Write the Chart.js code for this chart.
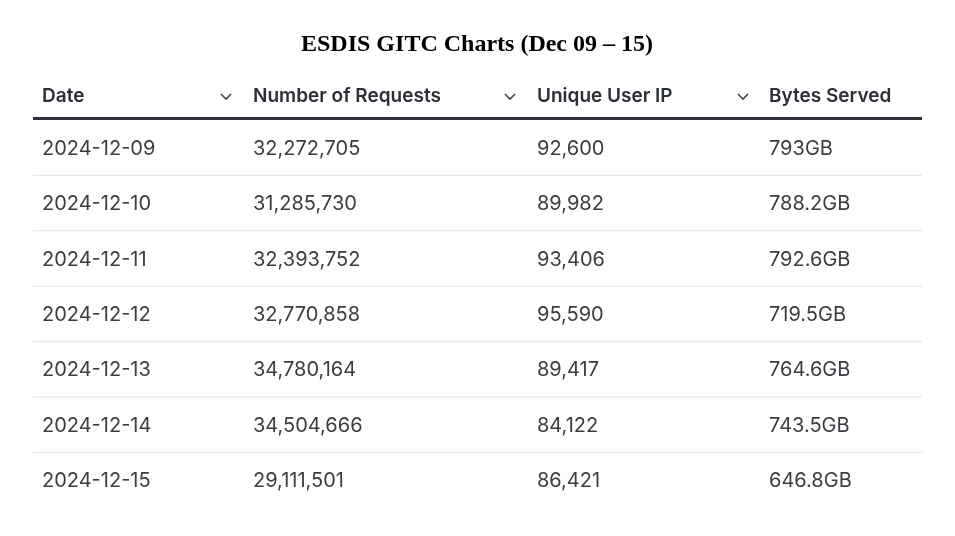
<!DOCTYPE html>
<html><head><meta charset="utf-8">
<script src="https://cdn.jsdelivr.net/npm/chart.js@4"></script>
<style>html,body{margin:0;padding:0;background:#fff}#w{width:955px;height:536px}</style>
</head><body><div id="w"><canvas id="c"></canvas></div>
<script>
const title = "ESDIS GITC Charts (Dec 09 – 15)";
const columns = ["Date", "Number of Requests", "Unique User IP", "Bytes Served"];
const dates = ["2024-12-09","2024-12-10","2024-12-11","2024-12-12","2024-12-13","2024-12-14","2024-12-15"];
const requests = ["32,272,705","31,285,730","32,393,752","32,770,858","34,780,164","34,504,666","29,111,501"];
const uniqueIP = ["92,600","89,982","93,406","95,590","89,417","84,122","86,421"];
const bytesServed = ["793GB","788.2GB","792.6GB","719.5GB","764.6GB","743.5GB","646.8GB"];

const colX = [42, 253, 537, 769];
const chevX = [226, 510, 743];
const tablePlugin = {
  id: 'table',
  afterDraw(chart) {
    const ctx = chart.ctx, ys = chart.scales.y, a = chart.chartArea;
    ctx.save();
    ctx.fillStyle = '#000';
    ctx.font = 'bold 24px "Liberation Serif", "Times New Roman", serif';
    ctx.textAlign = 'center'; ctx.textBaseline = 'middle';
    ctx.fillText(title, 477, 45);
    ctx.textAlign = 'left';
    ctx.fillStyle = '#2b2f36';
    ctx.font = '600 19px Inter, sans-serif';
    columns.forEach((c, i) => ctx.fillText(c, colX[i], 96));
    ctx.strokeStyle = '#444'; ctx.lineWidth = 1.6;
    chevX.forEach(x => { ctx.beginPath(); ctx.moveTo(x-5, 94); ctx.lineTo(x, 99); ctx.lineTo(x+5, 94); ctx.stroke(); });
    ctx.fillStyle = '#2b2f36';
    ctx.fillRect(a.left, 117, a.right - a.left, 3);
    ctx.font = '20px Inter, sans-serif';
    ctx.fillStyle = '#3a3d42';
    dates.forEach((d, r) => {
      const y = ys.getPixelForValue(r);
      [d, requests[r], uniqueIP[r], bytesServed[r]].forEach((t, i) => ctx.fillText(t, colX[i], y + 1));
      if (r < dates.length - 1) {
        ctx.fillStyle = '#e6e7ea';
        ctx.fillRect(a.left, y + 27, a.right - a.left, 1.2);
        ctx.fillStyle = '#3a3d42';
      }
    });
    ctx.restore();
  }
};
new Chart(document.getElementById('c'), {
  type: 'scatter',
  data: { datasets: [] },
  options: {
    responsive: true, maintainAspectRatio: false, animation: false,
    layout: { padding: { left: 33, right: 33, top: 120, bottom: 28 } },
    plugins: { legend: { display: false }, tooltip: { enabled: false } },
    scales: {
      x: { type: 'linear', min: 0, max: 1, display: false },
      y: { type: 'category', labels: dates, offset: true, display: false }
    }
  },
  plugins: [tablePlugin]
});
</script></body></html>
